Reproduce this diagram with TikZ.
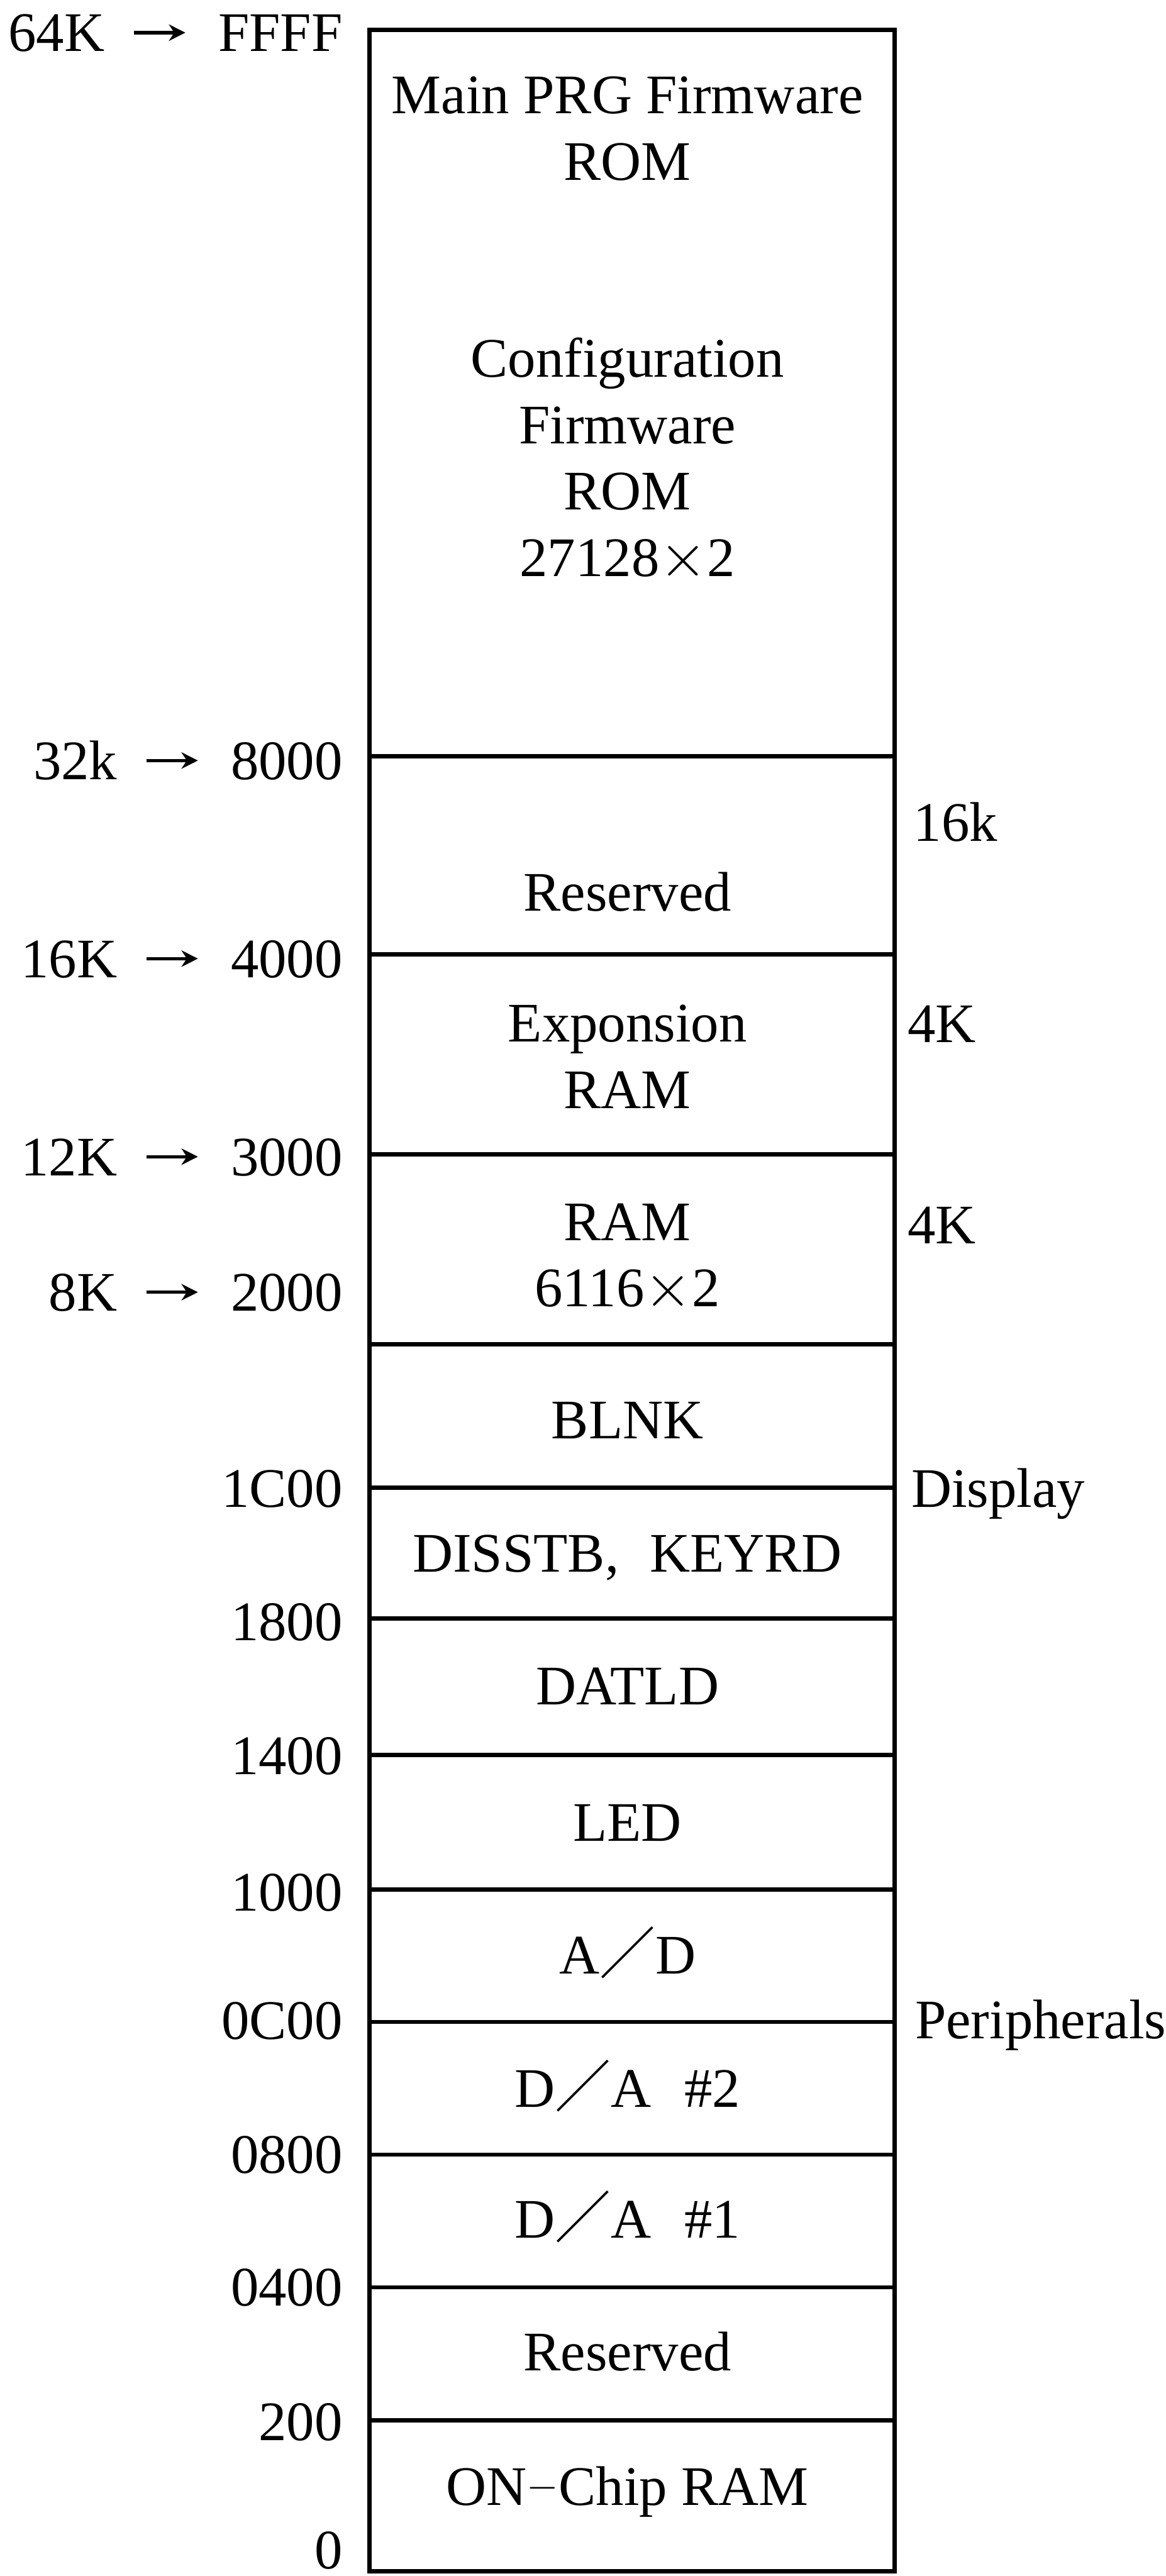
\documentclass[tikz,border=0pt]{standalone}
\usepackage{graphicx}
\usepackage{fontspec}
\setmainfont{Liberation Serif}
\newfontfamily\cjkfont{Noto Sans CJK SC}
\usetikzlibrary{arrows.meta, positioning}

\newcommand{\wslash}{{\cjkfont ／}}
\newcommand{\bigtimes}{\scalebox{1.5}{$\times$}}

\begin{document}
\begin{tikzpicture}[font=\fontsize{34}{40.5}\selectfont,
  sep/.style={line width=2.6pt},
  cell/.style={align=center, inner sep=0pt},
  word/.style={inner sep=0pt, text height=23pt, text depth=0pt},
  addr/.style={word, anchor=east},
  note/.style={inner sep=0pt, anchor=base west},
  ptr/.style={line width=2pt, -{Stealth[length=10pt,width=10pt]},
    shorten <=0.62cm, shorten >=0.70cm}]
  \useasboundingbox (0,0) rectangle (24.95,55.14);
  \pgfmathsetmacro{\xl}{7.91}
  \pgfmathsetmacro{\xr}{19.15}
  \pgfmathsetmacro{\xm}{13.43}
  \coordinate (TL) at (\xl,54.50);
  \coordinate (BR) at (\xr,0.10);
  \draw[sep] (TL) rectangle (BR);
  % 分隔线
  \foreach \y in {38.95,34.71,30.43,26.36,23.30,20.50,17.57,14.69,11.86,9.02,6.18,3.33}
    \draw[sep] (\xl,\y) -- (\xr,\y);

  % 左侧地址
  \foreach \a/\y in {FFFF/54.44, 8000/38.86, 4000/34.62, 3000/30.38, 2000/27.48,
      1C00/23.28, 1800/20.43, 1400/17.56, 1000/14.64, 0C00/11.90, 0800/9.03,
      0400/6.19, 200/3.30, 0/0.56}
    \node[addr] (a\a) at (7.34,\y) {\a};
  \foreach \k/\a in {64K/FFFF, 32k/8000, 16K/4000, 12K/3000, 8K/2000} {
    \node[word, left=2.42cm of a\a] (k\a) {\k};
    \draw[ptr] (k\a) -- (a\a);
  }

  % 各区内容
  \node[cell] (mainrom) at (\xm,52.39) {Main PRG Firmware\\ROM};
  \node[cell] (cfgrom) at (\xm,45.30) {Configuration\\Firmware\\ROM\\27128\bigtimes2};
  \node[word] (resvhi) at (\xm,36.04) {Reserved};
  \node[cell] (expram) at (\xm,32.52) {Exponsion\\RAM};
  \node[cell] (ram) at (\xm,28.22) {RAM\\6116\bigtimes2};
  \node[word] (blnk) at (\xm,24.75) {BLNK};
  \node[word] (disstb) at (\xm,21.89) {DISSTB,\hspace{0.55em}KEYRD};
  \node[word] (datld) at (\xm,19.06) {DATLD};
  \node[word] (led) at (\xm,16.14) {LED};
  \node[word] (adc) at (\xm,13.29) {A\wslash D};
  \node[word] (dac2) at (\xm,10.44) {D\wslash A\hspace{0.6em}\#2};
  \node[word] (dac1) at (\xm,7.64) {D\wslash A\hspace{0.6em}\#1};
  \node[word] (resvlo) at (\xm,4.80) {Reserved};
  \node[word] (onchip) at (\xm,1.92) {ON\raisebox{0.12em}{$-$}Chip RAM};

  % 右侧说明
  \node[note] (n16k) at (19.55,37.13) {16k};
  \node[note] (n4ka) at (19.42,32.82) {4K};
  \node[note] (n4kb) at (19.42,28.52) {4K};
  \node[note] (ndisp) at (19.50,22.88) {Display};
  \node[note] (nperi) at (19.58,11.50) {Peripherals};
\end{tikzpicture}
\end{document}
